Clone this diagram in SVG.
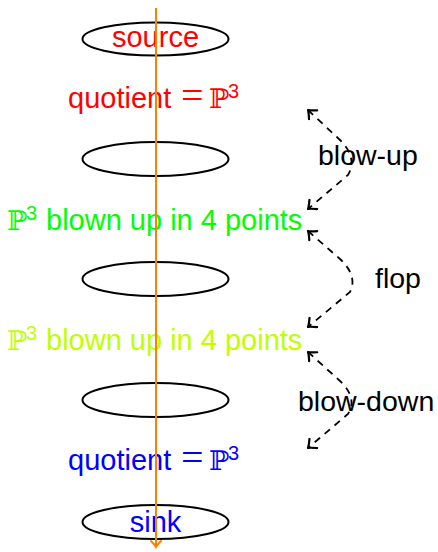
<svg xmlns="http://www.w3.org/2000/svg" width="438" height="552" viewBox="0 0 438 552">
<style>
.node{fill:none;stroke:#000;stroke-width:2}
.t{font-family:"Liberation Sans",Arial,sans-serif;font-size:29px}
.m{font-family:"DejaVu Serif","Liberation Serif",serif;font-size:27px}
.eq{font-family:"Liberation Serif","Times New Roman",serif;font-size:40px}
.sup{font-family:"Liberation Sans",Arial,sans-serif;font-size:20px}
.lbl{font-family:"Liberation Sans",Arial,sans-serif;font-size:28.5px;fill:#000}
.dash{fill:none;stroke:#000;stroke-width:1.8;stroke-dasharray:7,6}
</style>
<defs>
<marker id="ah" viewBox="-9 -7 11 14" markerWidth="11" markerHeight="14" refX="0" refY="0" orient="auto-start-reverse" markerUnits="userSpaceOnUse">
<path d="M-7,-6 Q-2,-1 0,0 Q-2,1 -7,6" fill="none" stroke="#000" stroke-width="2.2" stroke-linecap="round" stroke-linejoin="round"/>
</marker>
<marker id="oh" viewBox="-8 -6 10 12" markerWidth="10" markerHeight="12" refX="0" refY="0" orient="auto" markerUnits="userSpaceOnUse">
<path d="M-6,-5 Q-2,-1 0,0 Q-2,1 -6,5" fill="none" stroke="#ff8000" stroke-width="2" stroke-linecap="round"/>
</marker>
</defs>
<g id="source"><ellipse class="node" cx="155.5" cy="39" rx="73" ry="16.5"/><text class="t" x="155.5" y="47" text-anchor="middle" fill="#ff0000">source</text></g>
<g id="n2"><ellipse class="node" cx="155.5" cy="159" rx="73" ry="17"/></g>
<g id="n3"><ellipse class="node" cx="155.5" cy="279" rx="73" ry="17"/></g>
<g id="n4"><ellipse class="node" cx="155.5" cy="400" rx="73" ry="17"/></g>
<g id="sink"><ellipse class="node" cx="155.5" cy="522" rx="73" ry="17"/><text class="t" x="155.5" y="532" text-anchor="middle" fill="#0000ff">sink</text></g>
<g id="q1" fill="#ff0000"><text class="t" x="68" y="108">quotient</text><text class="eq" x="181" y="109">=</text><text class="m" x="209" y="108">ℙ</text><text class="sup" x="228" y="98">3</text></g>
<g id="b1" fill="#00ff00"><text class="m" x="7" y="230">ℙ</text><text class="sup" x="26" y="220">3</text><text class="t" x="46" y="230">blown up in 4 points</text></g>
<g id="b2" fill="#bfff00"><text class="m" x="7" y="350">ℙ</text><text class="sup" x="26" y="340">3</text><text class="t" x="46" y="350">blown up in 4 points</text></g>
<g id="q2" fill="#0000ff"><text class="t" x="68" y="470">quotient</text><text class="eq" x="181" y="471">=</text><text class="m" x="209" y="470">ℙ</text><text class="sup" x="228" y="460">3</text></g>
<g id="connectors">
<line x1="156" y1="8" x2="156" y2="547" stroke="#ff8000" stroke-width="2" marker-end="url(#oh)"/>
<path class="dash" d="M308,110 L340,140 Q358,158 348,175 L308,209" marker-start="url(#ah)" marker-end="url(#ah)"/>
<path class="dash" d="M308,231 L340,259 Q358,276 350,292 L308,327" marker-start="url(#ah)" marker-end="url(#ah)"/>
<path class="dash" d="M308,352 L340,381 Q358,398 348,414 L308,448" marker-start="url(#ah)" marker-end="url(#ah)"/>
<text class="lbl" x="318" y="165">blow-up</text>
<text class="lbl" x="375" y="288">flop</text>
<text class="lbl" x="298" y="411">blow-down</text>
</g>
</svg>
